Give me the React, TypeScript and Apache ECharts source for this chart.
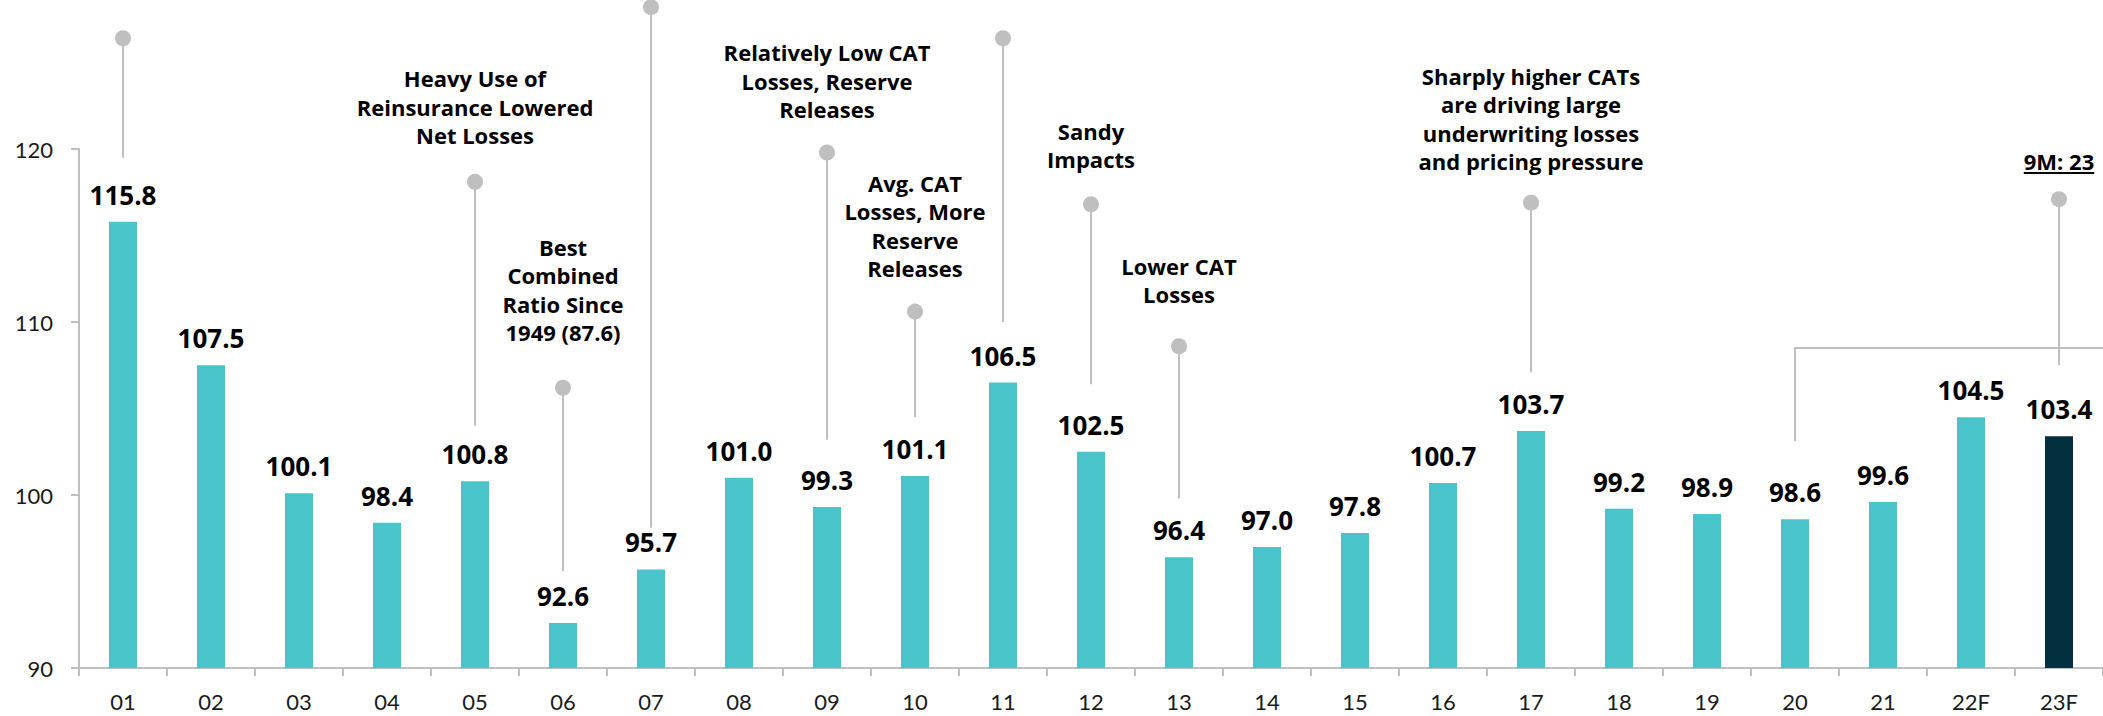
import React, { useEffect, useRef } from "react";
import * as echarts from "echarts";

// ---------- data ----------
const categories = ["01", "02", "03", "04", "05", "06", "07", "08", "09", "10", "11", "12", "13", "14", "15", "16", "17", "18", "19", "20", "21", "22F", "23F"];
const ratios = [115.8, 107.5, 100.1, 98.4, 100.8, 92.6, 95.7, 101.0, 99.3, 101.1, 106.5, 102.5, 96.4, 97.0, 97.8, 100.7, 103.7, 99.2, 98.9, 98.6, 99.6, 104.5, 103.4];
const highlightCategory = "23F";

const yMin = 90;
const yMax = 120;
const yInterval = 10;

// annotation callouts: pin top value, pin bottom value, value at the last text line, text
const annCategories = ["01", "05", "06", "07", "09", "10", "11", "12", "13", "17", "23F"];
const annTopValues = [126.4, 118.1, 106.2, 128.2, 119.8, 110.6, 126.4, 116.8, 108.6, 116.9, 117.1];
const annBottomValues = [119.5, 104.0, 95.6, 98.1, 103.2, 104.5, 110.0, 106.4, 99.8, 107.1, 107.5];
const annTextValues = [0, 120.8, 109.4, 0, 122.3, 113.1, 0, 119.4, 111.6, 119.3, 119.3];
const annTexts = [
  "",
  "Heavy Use of\nReinsurance Lowered\nNet Losses",
  "Best\nCombined\nRatio Since\n1949 (87.6)",
  "",
  "Relatively Low CAT\nLosses, Reserve\nReleases",
  "Avg. CAT\nLosses, More\nReserve\nReleases",
  "",
  "Sandy\nImpacts",
  "Lower CAT\nLosses",
  "Sharply higher CATs\nare driving large\nunderwriting losses\nand pricing pressure",
  "9M: 23",
];
const annUnderlined = [false, false, false, false, false, false, false, false, false, false, true];

// bracket from category 20 across to the right
const bracketCategory = "20";
const bracketBottomValue = 103.1;
const bracketTopValue = 108.5;

// ---------- styles ----------
const TEAL = "#49C4CA";
const DARK = "#03303F";
const GRAY = "#BFBFBF";
const TICK_FONT = "Lato";
const BOLD_FONT = "Open Sans";
const LINE_H = 28.5;

function measure(text: string, font: string): number {
  const c = document.createElement("canvas").getContext("2d");
  if (!c) return text.length * 12;
  c.font = font;
  return c.measureText(text).width;
}

export default function App() {
  const ref = useRef<HTMLDivElement>(null);

  useEffect(() => {
    document.body.style.margin = "0";
    if (!ref.current) return;
    const chart = echarts.init(ref.current, undefined, { renderer: "svg" });

    const annData = annCategories.map((c, i) => [categories.indexOf(c), annTopValues[i], annBottomValues[i], annTextValues[i]]);
    const bracketData = [[categories.indexOf(bracketCategory), bracketBottomValue, bracketTopValue]];

    const option: any = {
      animation: false,
      grid: { left: 79, top: 149, width: 2031, height: 519 },
      xAxis: {
        type: "category",
        data: categories,
        axisLine: { lineStyle: { color: GRAY, width: 2 } },
        axisTick: { show: true, length: 8, lineStyle: { color: GRAY, width: 2 } },
        axisLabel: { interval: 0, margin: 22, color: "#1a1a1a", fontSize: 22, fontFamily: TICK_FONT },
      },
      yAxis: {
        type: "value",
        min: yMin,
        max: yMax,
        interval: yInterval,
        axisLine: { show: true, lineStyle: { color: GRAY, width: 2 } },
        axisTick: { show: true, length: 8, lineStyle: { color: GRAY, width: 2 } },
        splitLine: { show: false },
        axisLabel: { margin: 26, color: "#1a1a1a", fontSize: 22, fontFamily: TICK_FONT },
      },
      series: [
        {
          type: "bar",
          barWidth: 28,
          data: ratios.map((v, i) => ({
            value: v,
            itemStyle: { color: categories[i] === highlightCategory ? DARK : TEAL },
          })),
          label: {
            show: true,
            position: "top",
            distance: 14,
            formatter: (p: any) => Number(p.value).toFixed(1),
            color: "#000",
            fontSize: 26,
            fontWeight: "bold",
            fontFamily: BOLD_FONT,
          },
        },
        {
          type: "custom",
          clip: false,
          silent: true,
          data: annData,
          renderItem: (params: any, api: any) => {
            const i = params.dataIndex;
            const x = api.value(0);
            const pt = api.coord([x, api.value(1)]);
            const pb = api.coord([x, api.value(2)]);
            const children: any[] = [
              { type: "line", shape: { x1: pt[0], y1: pt[1], x2: pb[0], y2: pb[1] }, style: { stroke: GRAY, lineWidth: 2 } },
              { type: "circle", shape: { cx: pt[0], cy: pt[1], r: 8 }, style: { fill: GRAY } },
            ];
            const txt = annTexts[i];
            if (txt) {
              const pTxt = api.coord([x, api.value(3)]);
              const lastLineY = pTxt[1];
              children.push({
                type: "text",
                x: pt[0],
                y: lastLineY + LINE_H / 2,
                style: {
                  text: txt,
                  fill: "#000",
                  fontSize: 22,
                  fontWeight: "bold",
                  fontFamily: BOLD_FONT,
                  align: "center",
                  verticalAlign: "bottom",
                  lineHeight: LINE_H,
                },
              });
              if (annUnderlined[i]) {
                const w = measure(txt, `bold 22px "${BOLD_FONT}"`);
                const uy = lastLineY + 12;
                children.push({
                  type: "line",
                  shape: { x1: pt[0] - w / 2, y1: uy, x2: pt[0] + w / 2, y2: uy },
                  style: { stroke: "#000", lineWidth: 2 },
                });
              }
            }
            return { type: "group", children };
          },
        },
        {
          type: "custom",
          clip: false,
          silent: true,
          data: bracketData,
          renderItem: (params: any, api: any) => {
            const x = api.value(0);
            const pb = api.coord([x, api.value(1)]);
            const pt = api.coord([x, api.value(2)]);
            return {
              type: "polyline",
              shape: { points: [pb, pt, [api.getWidth() + 10, pt[1]]] },
              style: { stroke: GRAY, lineWidth: 2, fill: "none" },
            };
          },
        },
      ],
    };

    chart.setOption(option);
    return () => chart.dispose();
  }, []);

  return <div ref={ref} style={{ width: 2103, height: 716 }} />;
}
